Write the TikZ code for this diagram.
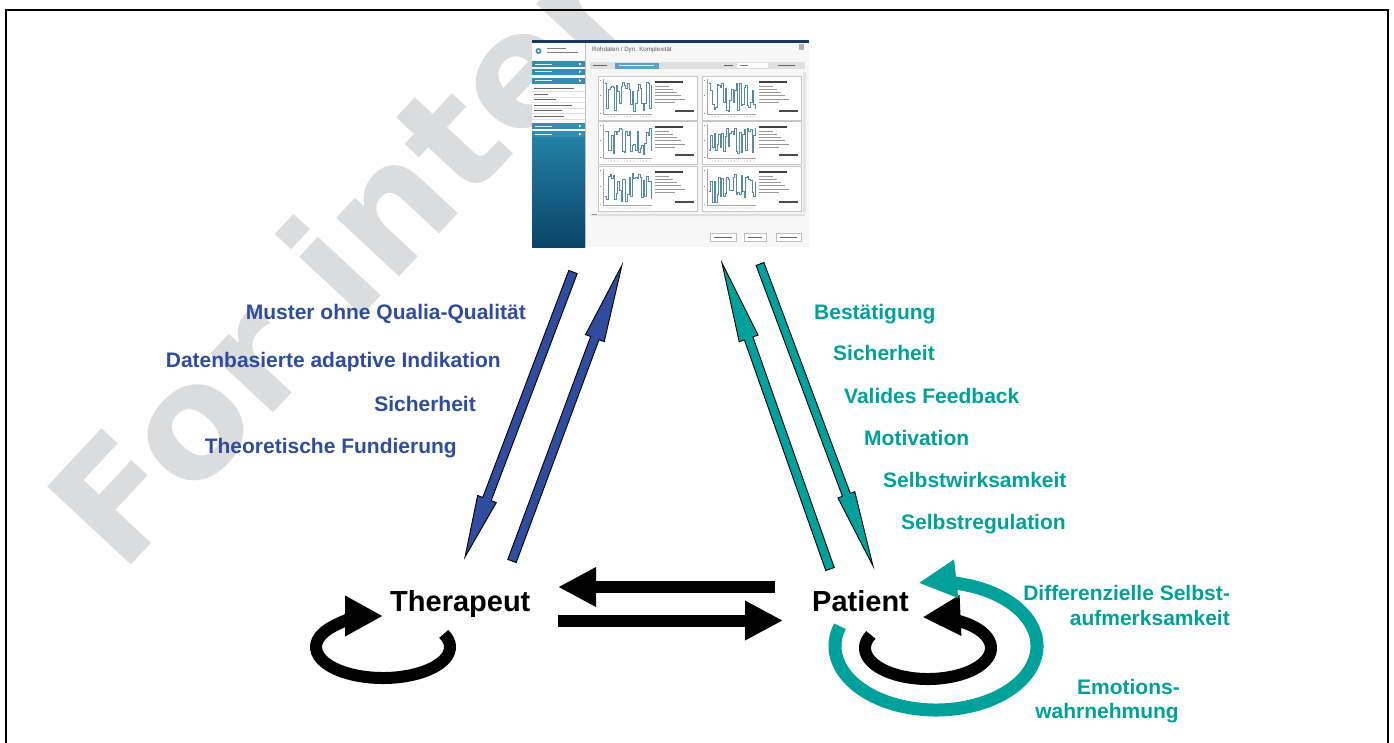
\documentclass[tikz,border=0pt]{standalone}
\usepackage{fontspec}
\setmainfont{Liberation Sans}
\newfontfamily\wmfont{DejaVu Sans}
\usetikzlibrary{arrows.meta,calc}
\definecolor{dblue}{RGB}{47,76,158}
\definecolor{tealc}{RGB}{0,161,154}
\definecolor{wmgray}{RGB}{219,220,222}
\definecolor{navyc}{RGB}{22,58,95}
\definecolor{sbtop}{RGB}{35,128,165}
\definecolor{sbbot}{RGB}{10,68,104}
\definecolor{menubar}{RGB}{52,140,178}
\definecolor{plotc}{RGB}{85,138,162}
\definecolor{tabc}{RGB}{95,160,200}
\newcommand\blockarr[6]{%
  \coordinate (baH) at ($(#3)!#5!(#2)$);
  \draw[#1] ($(#2)!#4!90:(#3)$) -- ($(baH)!#4!90:(#3)$) -- ($(baH)!#6!90:(#3)$)
    -- (#3) -- ($(baH)!#6!-90:(#3)$) -- ($(baH)!#4!-90:(#3)$) -- ($(#2)!#4!-90:(#3)$) -- cycle;
}
\tikzset{
  lbl/.style={font=\fontsize{21}{25}\selectfont\bfseries, inner sep=0pt},
  bluelbl/.style={lbl, text=dblue, anchor=base east},
  teallbl/.style={lbl, text=tealc, anchor=base west},
  teallblr/.style={lbl, text=tealc, anchor=base east},
  actor/.style={font=\fontsize{29}{34}\selectfont\bfseries, inner sep=0pt, anchor=base west},
  blkarrow/.style={line width=12pt, -{Triangle[length=38pt,width=37pt]}},
  loopblk/.style={line width=12pt, -{Triangle[length=38pt,width=38pt]}},
  looptl/.style={line width=13pt, draw=tealc, -{Triangle[length=38pt,width=36pt]}},
  bluearr/.style={fill=dblue, draw=black, line width=0.9pt},
  tealarr/.style={fill=tealc, draw=black, line width=0.9pt},
  wmstyle/.style={font=\wmfont\bfseries\fontsize{157}{157}\selectfont, text=wmgray, inner sep=0pt},
  plotline/.style={draw=plotc, line width=0.4pt},
}
\begin{document}
\begin{tikzpicture}[x=1pt,y=-1pt]
\useasboundingbox (0,0) rectangle (1394,742);
\clip (0,0) rectangle (1394,742);
\fill[white] (0,0) rectangle (1394,742);
% watermark
\node[wmstyle, rotate=47, anchor=base west] (wmark) at (121.5,575.2) {For inter};
% frame
\draw[line width=1.6pt] (6,780) -- (6,10) -- (1388,10) -- (1388,780);

% ---------------- screenshot ----------------
\node[inner sep=0pt, minimum width=277pt, minimum height=207pt] (shot) at (670.5,143.5) {};
\fill[black!3] (532,40) rectangle (809,247);
\fill[navyc] (532,40) rectangle (809,42.5);
% sidebar
\fill[white] (532,42.5) rectangle (585,60);
\fill[menubar] (538.5,51) circle (3pt);
\fill[white] (538.5,51) circle (1.3pt);
\fill[black!50] (547,47.5) rectangle (566,48.8);
\fill[black!50] (547,51.5) rectangle (578,52.8);
\foreach \yy in {61,68.5,77.5,123,131}{
  \fill[menubar] (532,\yy) rectangle (585,\yy+6.3);
  \fill[white!85!menubar] (535,\yy+2.6) rectangle (552,\yy+3.6);
  \fill[white] (579,\yy+1.8) -- (581.5,\yy+3.1) -- (579,\yy+4.4) -- cycle;
}
\fill[white] (532,84.3) rectangle (585,122.5);
\foreach \yy/\ll in {88/40,93.5/14,99/22,104.5/38,110/28,115.5/30}{
  \fill[black!60] (533.5,\yy) rectangle (533.5+\ll,\yy+1.3);
  \draw[black!12, line width=0.3pt] (532,\yy+3.2) -- (585,\yy+3.2);
}
\shade[top color=sbtop, bottom color=sbbot] (532,137.5) rectangle (585,247);
\draw[black!25, line width=0.4pt] (585,42.5) -- (585,247);
% main area
\node[anchor=west, inner sep=0pt, text=black!65, font=\fontsize{6.2}{7}\selectfont] (shottitle) at (592,50) {Rohdaten / Dyn. Komplexität};
\fill[black!30] (799,44) rectangle (804,50);
\fill[black!12] (590,62) rectangle (805,69);
\fill[tabc] (615,62.5) rectangle (659,68.5);
\fill[white!80!tabc] (619,65) rectangle (654,66);
\fill[black!60] (593,65) rectangle (607,66.2);
\fill[black!60] (724,65) rectangle (733,66.2);
\fill[white] (737,63) rectangle (768,68);
\fill[black!50] (740,65) rectangle (748,66);
\fill[black!60] (778,65) rectangle (795,66.2);
\fill[black!4] (594,72) rectangle (806,218);
\fill[black!10] (803,72) rectangle (806,212);
\pgfmathsetseed{23}
\foreach \cx in {598,702}{
  \foreach \ry/\rh in {76/44,121/43,166/45}{
    \draw[black!22, fill=white, line width=0.4pt] (\cx,\ry) rectangle (\cx+99,\ry+\rh);
    \draw[black!35, line width=0.3pt] (\cx+5,\ry+3) -- (\cx+5,\ry+\rh-6) -- (\cx+54,\ry+\rh-6);
    \fill[black!45] (\cx+1.5,\ry+4) rectangle (\cx+3,\ry+5);
    \fill[black!45] (\cx+1.5,\ry+\rh/2-3) rectangle (\cx+3,\ry+\rh/2-2);
    \fill[black!45] (\cx+1.5,\ry+\rh-7) rectangle (\cx+3,\ry+\rh-6);
    \foreach \k in {0,...,14}{\fill[black!55] ({\cx+7+\k*3.2},{\ry+\rh-3}) circle (0.45pt);}
    \draw[plotline] plot[const plot, domain=0:46, samples=30]
      ({\cx+7+\x},{\ry+5+(\rh-14)*((rnd>0.45) ? (0.05+0.3*rnd) : (0.6+0.4*rnd))});
    \fill[black!75] (\cx+57,\ry+5) rectangle (\cx+85,\ry+6.5);
    \foreach \k/\ll in {0/14,1/18,2/22,3/26,4/30,5/20}{
      \fill[black!40] (\cx+57,{\ry+9.5+\k*3.3}) rectangle (\cx+57+\ll,{\ry+10.4+\k*3.3});
    }
    \fill[black!70] (\cx+77,\ry+\rh-10) rectangle (\cx+96,\ry+\rh-8.5);
  }
}
\fill[black!12] (590,213.5) rectangle (805,216);
\fill[black!40] (592,214.3) rectangle (597,215.3);
\foreach \xa/\xb in {710/736,744/766,776/801}{
  \draw[black!25, fill=white, line width=0.4pt] (\xa,233) rectangle (\xb,241);
  \fill[black!60] (\xa+4,236.5) rectangle (\xb-4,237.6);
}

% ---------------- actors ----------------
\node[actor] (ther) at (390,611.7) {Therapeut};
\node[actor] (pat) at (812,611.7) {Patient};

% ---------------- diagonal arrows ----------------
\coordinate (bdS) at (573,272);  \coordinate (bdE) at (465,557);
\coordinate (buS) at (512,561);  \coordinate (buE) at (622,265);
\coordinate (tuS) at (830,569);  \coordinate (tuE) at (722,263);
\coordinate (tdS) at (760,264);  \coordinate (tdE) at (873,566);
\blockarr{bluearr}{bdS}{bdE}{4.5pt}{62pt}{10pt}
\blockarr{bluearr}{buS}{buE}{4.5pt}{78pt}{10pt}
\blockarr{tealarr}{tuS}{tuE}{4.5pt}{80pt}{10pt}
\blockarr{tealarr}{tdS}{tdE}{4.2pt}{76pt}{9pt}

% ---------------- horizontal arrows ----------------
\coordinate (h1S) at (775,587);  \coordinate (h1E) at (558,587);
\coordinate (h2S) at (558,620.5); \coordinate (h2E) at (783,620.5);
\draw[blkarrow] (h1S) -- (h1E);
\draw[blkarrow] (h2S) -- (h2E);

% ---------------- loops ----------------
\coordinate (tc) at (383,647);
\draw[loopblk] (tc) ++(-25:67 and 31) arc[start angle=-25, end angle=270, x radius=67, y radius=31];
\coordinate (pc) at (928,648);
\draw[loopblk] (pc) ++(205:63 and 31) arc[start angle=205, end angle=-95, x radius=63, y radius=31];
\coordinate (pc2) at (936,646);
\draw[looptl] (pc2) ++(198:101 and 64) arc[start angle=198, end angle=-100, x radius=101, y radius=64];

% ---------------- labels ----------------
\node[bluelbl] (b1) at (526,319) {Muster ohne Qualia-Qualität};
\node[bluelbl] (b2) at (501,367) {Datenbasierte adaptive Indikation};
\node[bluelbl] (b3) at (476,411) {Sicherheit};
\node[bluelbl] (b4) at (457,453) {Theoretische Fundierung};

\node[teallbl] (t1) at (814,319) {Bestätigung};
\node[teallbl] (t2) at (833,360) {Sicherheit};
\node[teallbl] (t3) at (844,403.5) {Valides Feedback};
\node[teallbl] (t4) at (864,445.5) {Motivation};
\node[teallbl] (t5) at (883,487.5) {Selbstwirksamkeit};
\node[teallbl] (t6) at (901,529) {Selbstregulation};

\node[teallblr] (d1) at (1230,600) {Differenzielle Selbst-};
\node[teallblr] (d2) at (1230,625) {aufmerksamkeit};
\node[teallblr] (e1) at (1180,694) {Emotions-};
\node[teallblr] (e2) at (1179,718) {wahrnehmung};
\end{tikzpicture}
\end{document}
